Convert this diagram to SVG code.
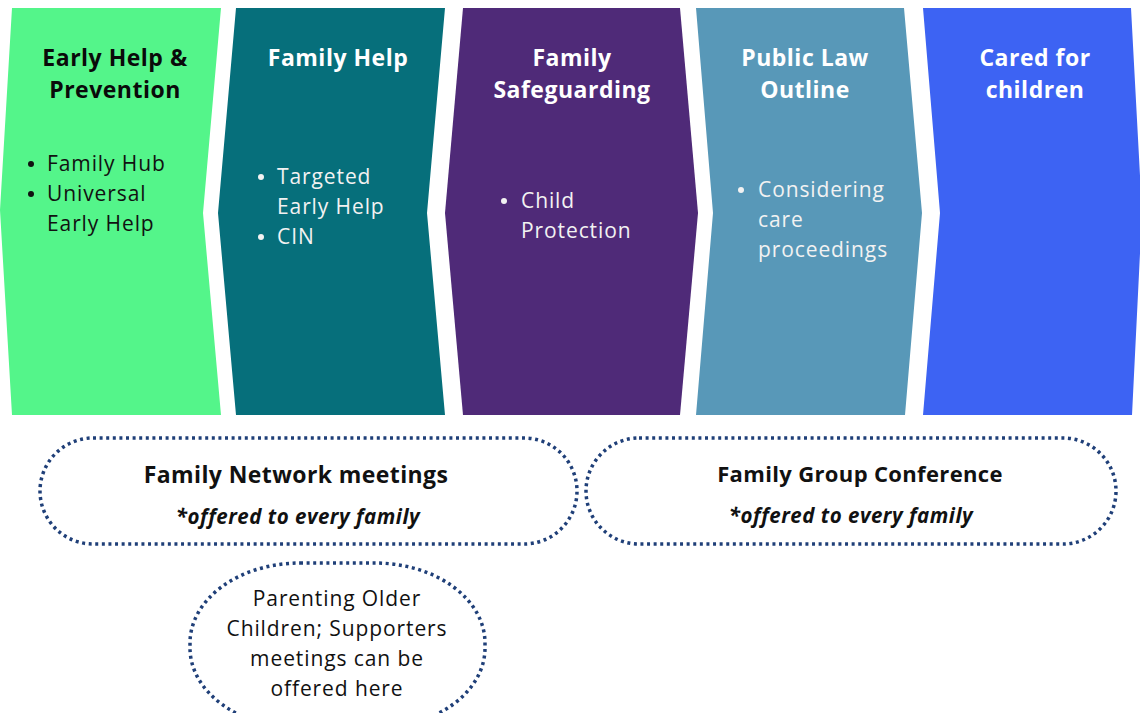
<svg xmlns="http://www.w3.org/2000/svg" width="1140" height="713" viewBox="0 0 1140 713">
  <style>
    .title { font-family: "Open Sans", "DejaVu Sans", sans-serif; font-weight: 700; font-size: 23px; letter-spacing: 0.5px; text-anchor: middle; }
    .item { font-family: "Open Sans", "DejaVu Sans", sans-serif; font-size: 21px; letter-spacing: 0.9px; }
    .pill { fill: #ffffff; stroke: #1f3f78; stroke-width: 3.5; stroke-dasharray: 3 3.6; stroke-linecap: butt; }
    .pillTitle { font-family: "Open Sans", "DejaVu Sans", sans-serif; font-weight: 700; font-size: 23px; letter-spacing: 0.4px; text-anchor: middle; fill: #111; }
    .pillNote { font-family: "Open Sans", "DejaVu Sans", sans-serif; font-weight: 700; font-style: italic; font-size: 20.5px; letter-spacing: 0.5px; text-anchor: middle; fill: #111; }
    .note { font-family: "Open Sans", "DejaVu Sans", sans-serif; font-size: 21px; letter-spacing: 0.9px; text-anchor: middle; fill: #111; }
  </style>
  <rect width="1140" height="713" fill="#ffffff"/>

  <!-- Stage 1 -->
  <g id="early-help">
    <path d="M12,8 L221,8 L203,213 L221,415 L12,415 L0,210 Z" fill="#54f58a"/>
    <text class="title" x="115" y="66" fill="#0a0a0a">Early Help &amp;</text>
    <text class="title" x="115" y="98" fill="#0a0a0a">Prevention</text>
    <g class="item" fill="#111">
      <circle cx="31" cy="164" r="3"/>
      <text x="47" y="171">Family Hub</text>
      <circle cx="31" cy="194" r="3"/>
      <text x="47" y="201">Universal</text>
      <text x="47" y="231">Early Help</text>
    </g>
  </g>

  <!-- Stage 2 -->
  <g id="family-help">
    <path d="M236,8 L445,8 L427,213 L445,415 L236,415 L218,213 Z" fill="#066f7b"/>
    <text class="title" x="338" y="66" fill="#ffffff">Family Help</text>
    <g class="item" fill="#f2f2f2">
      <circle cx="261" cy="177" r="3"/>
      <text x="277" y="184">Targeted</text>
      <text x="277" y="214">Early Help</text>
      <circle cx="261" cy="237" r="3"/>
      <text x="277" y="244">CIN</text>
    </g>
  </g>

  <!-- Stage 3 -->
  <g id="family-safeguarding">
    <path d="M463,8 L680,8 L698,213 L680,415 L463,415 L445,213 Z" fill="#4f2a78"/>
    <text class="title" x="572" y="66" fill="#ffffff">Family</text>
    <text class="title" x="572" y="98" fill="#ffffff">Safeguarding</text>
    <g class="item" fill="#f2f2f2">
      <circle cx="504" cy="201" r="3"/>
      <text x="521" y="208">Child</text>
      <text x="521" y="238">Protection</text>
    </g>
  </g>

  <!-- Stage 4 -->
  <g id="public-law-outline">
    <path d="M696,8 L904,8 L922,213 L905,415 L696,415 L713,213 Z" fill="#5898b8"/>
    <text class="title" x="805" y="66" fill="#ffffff">Public Law</text>
    <text class="title" x="805" y="98" fill="#ffffff">Outline</text>
    <g class="item" fill="#f2f2f2">
      <circle cx="741" cy="190" r="3"/>
      <text x="758" y="197">Considering</text>
      <text x="758" y="227">care</text>
      <text x="758" y="257">proceedings</text>
    </g>
  </g>

  <!-- Stage 5 -->
  <g id="cared-for-children">
    <path d="M923,8 L1131,8 L1142,213 L1132,415 L923,415 L940,213 Z" fill="#3d63f3"/>
    <text class="title" x="1035" y="66" fill="#ffffff">Cared for</text>
    <text class="title" x="1035" y="98" fill="#ffffff">children</text>
  </g>

  <!-- Meeting offers -->
  <g id="family-network-meetings">
    <rect class="pill" x="40" y="438" width="537" height="106" rx="53" ry="53"/>
    <text class="pillTitle" x="296" y="483">Family Network meetings</text>
    <text class="pillNote" x="298" y="524">*offered to every family</text>
  </g>

  <g id="family-group-conference">
    <rect class="pill" x="586" y="438" width="530" height="106" rx="53" ry="53"/>
    <text class="pillTitle" x="860" y="482" style="font-size:22px;letter-spacing:0.35px">Family Group Conference</text>
    <text class="pillNote" x="851" y="523">*offered to every family</text>
  </g>

  <g id="parenting-older-children">
    <rect class="pill" x="190" y="563" width="295" height="165" rx="110" ry="80"/>
    <text class="note" x="337" y="606">Parenting Older</text>
    <text class="note" x="337" y="636">Children; Supporters</text>
    <text class="note" x="337" y="666">meetings can be</text>
    <text class="note" x="337" y="696">offered here</text>
  </g>

  <g id="connectors"></g>
</svg>
